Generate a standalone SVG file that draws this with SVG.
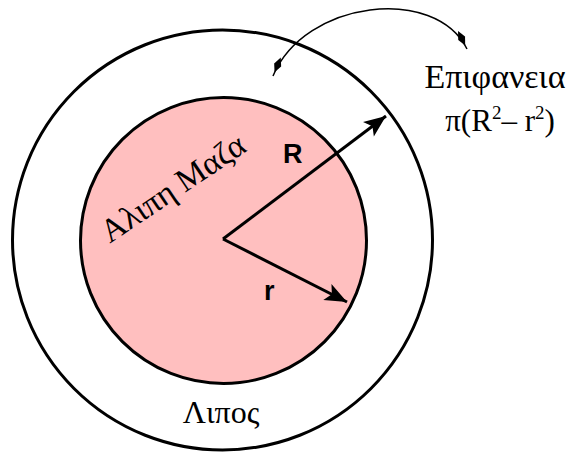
<svg xmlns="http://www.w3.org/2000/svg" width="571" height="452" viewBox="0 0 571 452">
<defs>
<style>
.ring{fill:none;stroke:#000;stroke-width:3}
.core{fill:#ffbfbf;stroke:#000;stroke-width:3}
.serif{font-family:"Liberation Serif","Times New Roman",serif;fill:#000}
.bold{font-family:"Liberation Sans",Arial,sans-serif;font-weight:bold;fill:#000}
.radius{fill:none;stroke:#000;stroke-width:3}
.curve{fill:none;stroke:#000;stroke-width:1.5}
</style>
<marker id="arrow" markerUnits="userSpaceOnUse" markerWidth="24" markerHeight="20" refX="22" refY="10" orient="auto" overflow="visible">
<path d="M0,1 L22,10 L0,19 L5,10 Z" fill="#000"/>
</marker>
<marker id="kite" markerUnits="userSpaceOnUse" markerWidth="22" markerHeight="10" refX="20" refY="5" orient="auto-start-reverse" overflow="visible">
<path d="M0,5 L8,1.2 L16,5 L8,8.8 Z" fill="#000"/>
</marker>
</defs>
<g id="outer">
<circle class="ring" cx="222.5" cy="240" r="210"/>
</g>
<g id="inner">
<circle class="core" cx="223.5" cy="240.5" r="143"/>
</g>
<g id="connectors">
<path class="radius" d="M223,239 L386,116" marker-end="url(#arrow)"/>
<path class="radius" d="M223,239 L347,302" marker-end="url(#arrow)"/>
<path class="curve" d="M273,76 C305,0 435,-15 467,49" marker-start="url(#kite)" marker-end="url(#kite)"/>
</g>
<g id="label-core">
<text class="serif" font-size="33" text-anchor="middle" transform="translate(179,197) rotate(-34)">Αλιπη Μαζα</text>
</g>
<g id="label-R">
<text class="bold" font-size="27" x="283" y="163">R</text>
</g>
<g id="label-r">
<text class="bold" font-size="27" x="264" y="300">r</text>
</g>
<g id="label-fat">
<text class="serif" font-size="32" text-anchor="middle" x="221" y="423">Λιπος</text>
</g>
<g id="label-area">
<text class="serif" font-size="34" text-anchor="middle" x="495" y="88">Επιφανεια</text>
<text class="serif" font-size="31" text-anchor="middle" x="500" y="131">π(R<tspan font-size="19" dy="-12">2</tspan><tspan dy="12">– r</tspan><tspan font-size="19" dy="-12">2</tspan><tspan dy="12">)</tspan></text>
</g>
</svg>
